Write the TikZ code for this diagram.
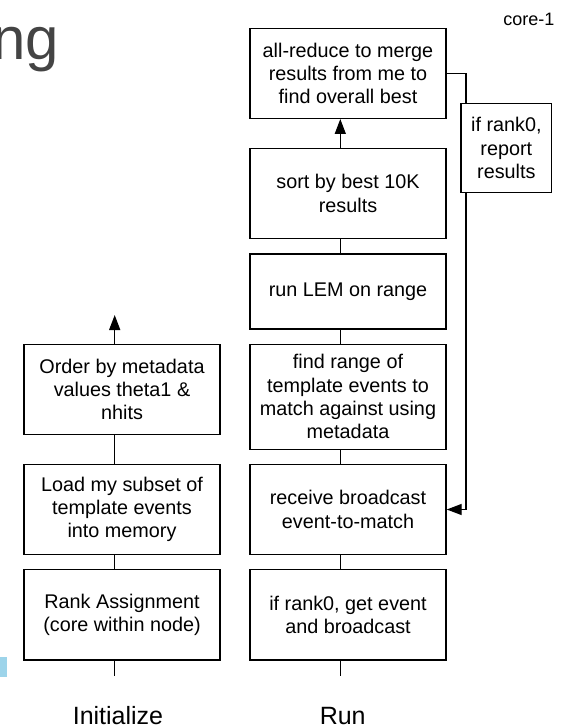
\documentclass[tikz,border=0pt]{standalone}
\usepackage{fontspec}
\setmainfont{Liberation Sans}
\usetikzlibrary{arrows.meta}
\definecolor{titlegray}{HTML}{444444}
\definecolor{tabblue}{HTML}{9DD4EA}
\tikzset{
  box/.style={draw=black, line width=1.4pt, rectangle, inner sep=0pt, align=center,
    font=\fontsize{19.8}{23.3}\selectfont, minimum width=196pt},
  conn/.style={line width=1.4pt, draw=black},
  arr/.style={conn, -{Triangle[length=15pt, width=11pt]}},
  lbl/.style={inner sep=0pt, font=\fontsize{25}{30}\selectfont}
}
\begin{document}
\begin{tikzpicture}[x=1pt, y=-1pt]
\useasboundingbox (0,0) rectangle (560,727);
\clip (0,0) rectangle (560,727);
% title fragment
\node[inner sep=0pt, anchor=base east, text=titlegray, font=\fontsize{60}{70}\selectfont] (title) at (59,60) {ng};
\node[inner sep=0pt, anchor=base east, font=\fontsize{18}{21}\selectfont] (core) at (554.5,25.5) {core-1};
% blue tab
\fill[tabblue] (0,657.3) rectangle (6.7,676.7);
% helper x positions
\coordinate (rx) at (340.3,0);
\coordinate (ix) at (114.7,0);
\coordinate (lx) at (466,0);
% run column
\node[box, minimum height=90pt] (allred) at (348,73.3) {all-reduce to merge\\results from me to\\find overall best};
\node[box, minimum height=90pt] (sort) at (348,193.3) {sort by best 10K\\results};
\node[box, minimum height=75pt] (lem) at (348,291.5) {run LEM on range};
\node[box, minimum height=105pt] (find) at (348,396.8) {find range of\\template events to\\match against using\\metadata};
\node[box, minimum height=90.4pt] (recv) at (348,509.5) {receive broadcast\\event-to-match};
\node[box, minimum height=90.3pt] (get) at (348,614.85) {if rank0, get event\\and broadcast};
% report box
\node[box, minimum width=90.7pt, minimum height=89.4pt] (rep) at (506.35,148) {if rank0,\\report\\results};
% initialize column
\node[box, minimum height=90pt] (order) at (122,389.3) {Order by metadata\\values theta1 \&\\nhits};
\node[box, minimum height=90.4pt] (load) at (122,509.5) {Load my subset of\\template events\\into memory};
\node[box, minimum height=90.3pt] (rank) at (122,614.85) {Rank Assignment\\(core within node)};
% free ends
\coordinate (getend) at (340.3,675.7);
\coordinate (rankend) at (114.7,675.7);
\coordinate (ordertip) at (114.7,315);
% run connectors
\draw[arr] (sort.north -| rx) -- (allred.south -| rx);
\draw[conn] (sort.south -| rx) -- (lem.north -| rx);
\draw[conn] (lem.south -| rx) -- (find.north -| rx);
\draw[conn] (find.south -| rx) -- (recv.north -| rx);
\draw[conn] (recv.south -| rx) -- (get.north -| rx);
\draw[conn] (get.south -| rx) -- (getend);
% loop via report
\draw[conn] (allred.east) -| (rep.north -| lx);
\draw[arr] (rep.south -| lx) |- (recv.east);
% initialize connectors
\draw[conn] (rank.south -| ix) -- (rankend);
\draw[conn] (rank.north -| ix) -- (load.south -| ix);
\draw[conn] (load.north -| ix) -- (order.south -| ix);
\draw[arr] (order.north -| ix) -- (ordertip);
% column labels
\node[lbl, anchor=base] (initlbl) at (118,724.3) {Initialize};
\node[lbl, anchor=base] (runlbl) at (342.7,724.3) {Run};
\end{tikzpicture}
\end{document}
